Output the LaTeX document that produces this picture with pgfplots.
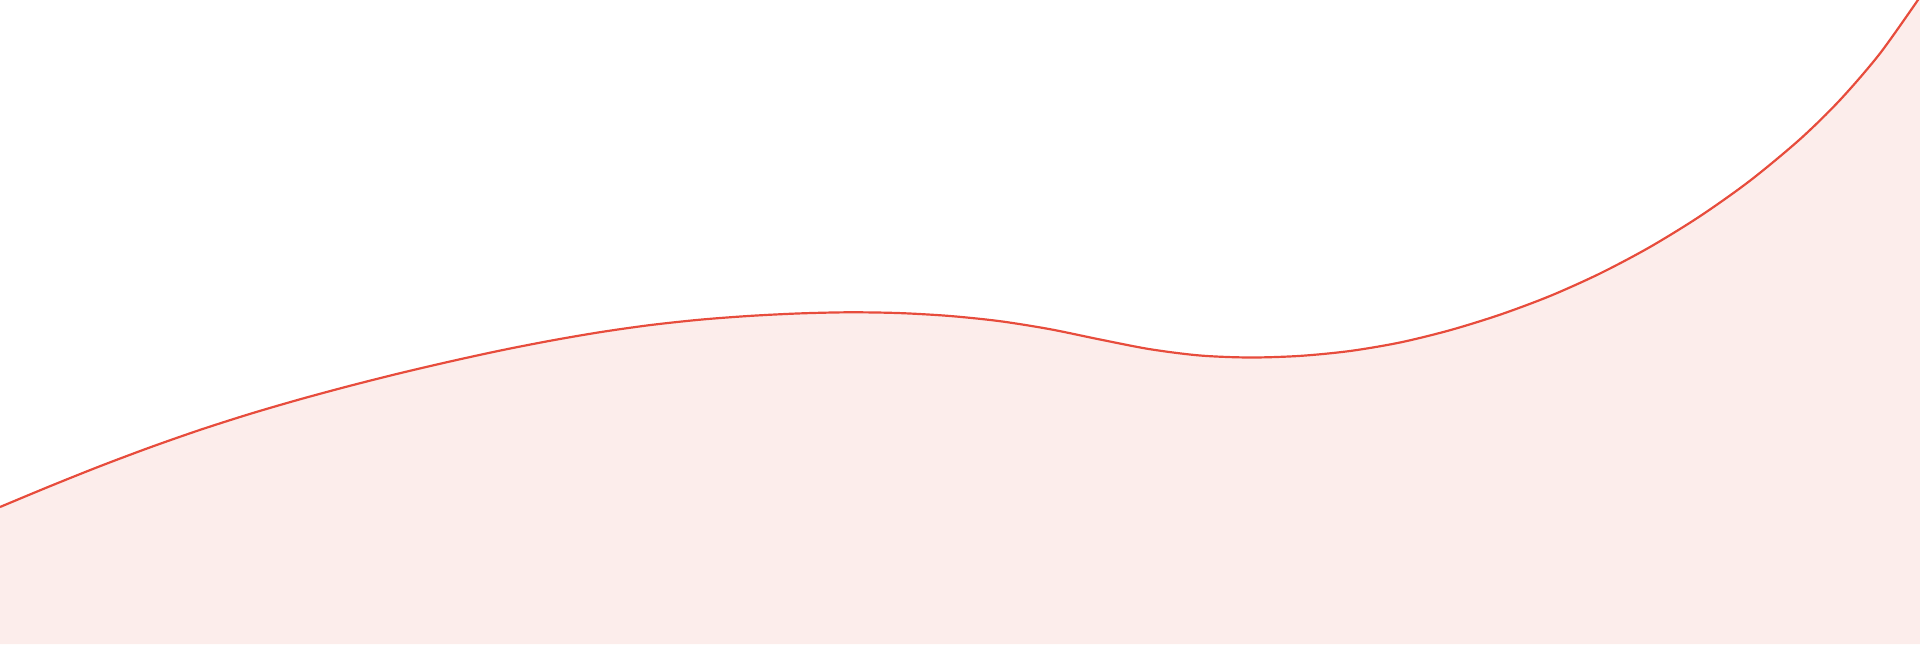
\documentclass[border=0pt]{standalone}
\usepackage{pgfplots}
\pgfplotsset{compat=1.18}
\definecolor{wline}{RGB}{231,76,60}
\definecolor{wfill}{RGB}{252,237,235}
\pgfplotstableread{
x y
0 137
50 157.8
100 177.8
150 196.6
200 214.1
250 230.1
300 244.7
350 258.2
400 270.8
450 282.5
500 293.4
550 303.2
600 311.8
650 318.9
700 324.3
750 328.1
800 330.6
850 331.7
900 330.9
950 328.0
1000 322.8
1050 314.8
1100 304.5
1150 294.8
1200 288.5
1250 286.5
1300 288.1
1350 293.0
1400 301.5
1450 313.8
1500 329.3
1550 348.0
1600 370.5
1650 397.0
1700 427.8
1750 463.3
1800 504.8
1840 544.0
1880 590.6
1920 647.0
}\wave
\begin{document}
\begin{tikzpicture}
\begin{axis}[
  scale only axis,
  width=20cm, height=6.7083cm,
  xmin=0, xmax=1920, ymin=0, ymax=644,
  axis lines=none,
  ticks=none,
  clip=true,
]
\addplot[draw=none, fill=wfill, smooth, tension=0.5] table {\wave} \closedcycle;
\addplot[wline, line width=0.65pt, smooth, tension=0.5] table {\wave};
\end{axis}
\end{tikzpicture}
\end{document}
